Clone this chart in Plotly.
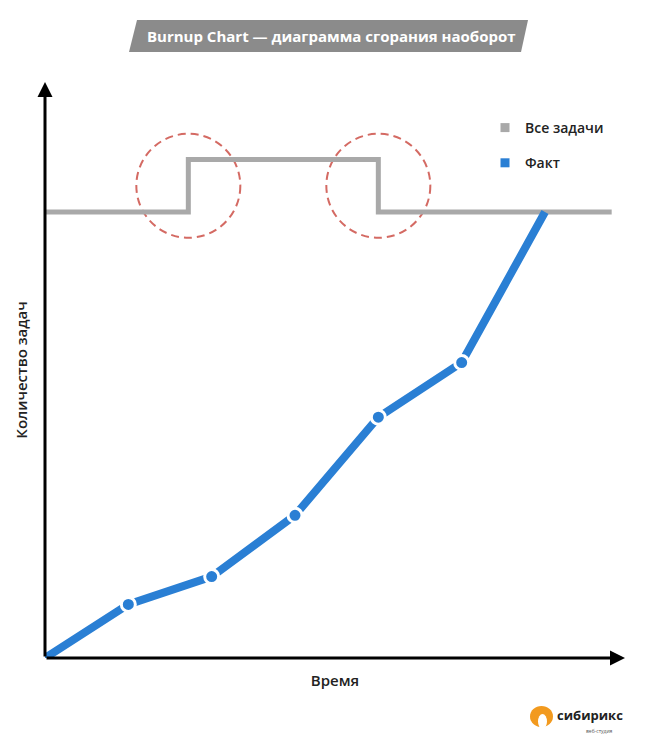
import plotly.graph_objects as go

# Burnup data: time steps and completed work
time_steps = [0, 1, 2, 3, 4, 5, 6]
done_tasks = [0, 4.8, 7.3, 12.8, 21.6, 26.5, 40]

# Total scope: step line (scope grows, then shrinks back)
scope_x = [0, 1.72, 1.72, 4.0, 4.0, 6.8]
scope_y = [40, 40, 44.7, 44.7, 40, 40]

# Points where scope changes (highlighted with dashed circles)
change_x = [1.72, 4.0]

title_text = "Burnup Chart — диаграмма сгорания наоборот"
x_title = "Время"
y_title = "Количество задач"
legend_names = ["Все задачи", "Факт"]

GRAY = "#a9a9a9"
BLUE = "#2a7fd4"
RED = "#d46a63"
FONT = "Open Sans"

W, H = 660, 750
ML, MR, MT, MB = 45, 35, 82, 92
X_MAX, Y_MAX = 6.96, 51.66
plot_w = W - ML - MR
plot_h = H - MT - MB
px_per_x = plot_w / X_MAX
px_per_y = plot_h / Y_MAX


def px_to_paper(px, py):
    return (px - ML) / plot_w, (H - MB - py) / plot_h


fig = go.Figure()

# scope line
fig.add_trace(go.Scatter(
    x=scope_x, y=scope_y, mode="lines",
    line=dict(color=GRAY, width=5),
    showlegend=False, hoverinfo="skip", cliponaxis=False,
))

# completed-work line
fig.add_trace(go.Scatter(
    x=time_steps, y=done_tasks, mode="lines",
    line=dict(color=BLUE, width=8),
    showlegend=False, hoverinfo="skip", cliponaxis=False,
))
# intermediate markers with white ring
fig.add_trace(go.Scatter(
    x=time_steps[1:-1], y=done_tasks[1:-1], mode="markers",
    marker=dict(color=BLUE, size=14, line=dict(color="white", width=3)),
    showlegend=False, hoverinfo="skip", cliponaxis=False,
))

# legend entries as squares
for name, col, grp in zip(legend_names, [GRAY, BLUE], ["a", "b"]):
    fig.add_trace(go.Scatter(
        x=[None], y=[None], mode="markers", name=name, legendgroup=grp,
        marker=dict(symbol="square", size=9, color=col),
    ))

# dashed circles around scope changes
radius_px = 52
level_lo, level_hi = scope_y[0], scope_y[2]
for cx in change_x:
    cy = (level_lo + level_hi) / 2
    rx = radius_px / px_per_x
    ry = radius_px / px_per_y
    fig.add_shape(type="circle", xref="x", yref="y",
                  x0=cx - rx, x1=cx + rx, y0=cy - ry, y1=cy + ry,
                  line=dict(color=RED, width=2, dash="8px,5px"), layer="below")

# axes with arrow heads
for tip in [(X_MAX, 0), (0, Y_MAX)]:
    fig.add_annotation(x=tip[0], y=tip[1], ax=0, ay=0, xref="x", yref="y",
                       axref="x", ayref="y", text="", showarrow=True,
                       arrowhead=2, arrowsize=1.0, arrowwidth=3,
                       arrowcolor="#000000")

# title banner (slanted gray ribbon)
p1 = px_to_paper(137, 20)
p2 = px_to_paper(528, 20)
p3 = px_to_paper(521, 52)
p4 = px_to_paper(129, 52)
fig.add_shape(type="path", xref="paper", yref="paper",
              path=f"M {p1[0]} {p1[1]} L {p2[0]} {p2[1]} L {p3[0]} {p3[1]} L {p4[0]} {p4[1]} Z",
              fillcolor="#8b8b8b", line=dict(width=0))
tx, ty = px_to_paper(331, 36)
fig.add_annotation(x=tx, y=ty, xref="paper", yref="paper", text=f"<b>{title_text}</b>",
                   xanchor="center", yanchor="middle", showarrow=False,
                   font=dict(family=FONT, size=15, color="white"))

# studio logo
fig.add_shape(type="circle", xref="paper", yref="paper",
              x0=px_to_paper(530, 0)[0], x1=px_to_paper(553, 0)[0],
              y0=px_to_paper(0, 727)[1], y1=px_to_paper(0, 706)[1],
              fillcolor="#f29a1f", line=dict(width=0))
fig.add_shape(type="circle", xref="paper", yref="paper",
              x0=px_to_paper(538, 0)[0], x1=px_to_paper(547, 0)[0],
              y0=px_to_paper(0, 729)[1], y1=px_to_paper(0, 714)[1],
              fillcolor="white", line=dict(width=0))
gx, gy = px_to_paper(555, 715)
fig.add_annotation(x=gx, y=gy, xref="paper", yref="paper", text="<b>сибирикс</b>",
                   xanchor="left", yanchor="middle", showarrow=False,
                   font=dict(family=FONT, size=13, color="#222222"))
sx, sy = px_to_paper(584, 731)
fig.add_annotation(x=sx, y=sy, xref="paper", yref="paper", text="веб-студия",
                   xanchor="left", yanchor="middle", showarrow=False,
                   font=dict(family=FONT, size=5, color="#555555"))

fig.update_layout(
    width=W, height=H,
    margin=dict(l=ML, r=MR, t=MT, b=MB),
    paper_bgcolor="white", plot_bgcolor="white",
    font=dict(family=FONT, color="#222222"),
    showlegend=True,
    legend=dict(x=px_to_paper(485, 0)[0], y=px_to_paper(0, 112)[1],
                xanchor="left", yanchor="top", bgcolor="rgba(0,0,0,0)",
                font=dict(family=FONT, size=14, color="#222222", weight=600),
                tracegroupgap=14, itemwidth=30),
    xaxis=dict(range=[0, X_MAX], showgrid=False, zeroline=False, showticklabels=False,
               ticks="", showline=False,
               title=dict(text=x_title, font=dict(family=FONT, size=15, color="#222222", weight=600),
                          standoff=17)),
    yaxis=dict(range=[0, Y_MAX], showgrid=False, zeroline=False, showticklabels=False,
               ticks="", showline=False,
               title=dict(text=y_title, font=dict(family=FONT, size=15, color="#222222", weight=600),
                          standoff=12)),
)

fig.write_html("out.html")
